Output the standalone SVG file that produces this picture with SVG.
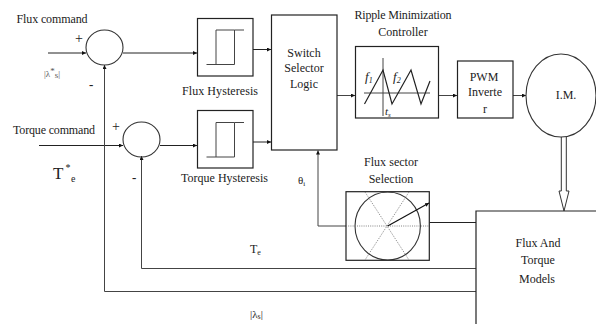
<svg xmlns="http://www.w3.org/2000/svg" width="596" height="324" viewBox="0 0 596 324">
<style>
text{font-family:"Liberation Serif","Times New Roman",serif;font-size:12px;fill:#222}
.m{text-anchor:middle}
.b{fill:#fff;stroke:#222;stroke-width:1.2}
.l{fill:none;stroke:#222;stroke-width:1}
.g{fill:none;stroke:#444;stroke-width:1}
.c{fill:none;stroke:#333;stroke-width:1.1}
.d{fill:none;stroke:#666;stroke-width:.8;stroke-dasharray:1 1.2}
</style>
<defs>
<marker id="a" markerWidth="5" markerHeight="5" refX="4" refY="2" orient="auto" markerUnits="userSpaceOnUse"><path d="M0 0L4 2L0 4Z" fill="#111"/></marker>
</defs>
<rect width="596" height="324" fill="#fff"/>
<g id="connectors">
<path class="l" d="M48 53H86" marker-end="url(#a)"/>
<path class="l" d="M123 53H197" marker-end="url(#a)"/>
<path class="l" d="M253 49.500H271" marker-end="url(#a)"/>
<path class="l" d="M39 145.500H123" marker-end="url(#a)"/>
<path class="l" d="M160 145.500H197" marker-end="url(#a)"/>
<path class="l" d="M253 142H271" marker-end="url(#a)"/>
<path class="g" d="M337 95.500H355" marker-end="url(#a)"/>
<path class="g" d="M439 95.500H457" marker-end="url(#a)"/>
<path class="g" d="M513 95.500H526" marker-end="url(#a)"/>
<path class="g" d="M346 226H318V150.500" marker-end="url(#a)"/>
<path class="l" d="M429.500 222.500H476"/>
<path class="g" d="M476 268.500H141.500V156" marker-end="url(#a)"/>
<path class="g" d="M476 291.500H104.500V65" marker-end="url(#a)"/>
<path d="M561.300 137V191H559L564 211L569 191H566.300V137" fill="#fff" stroke="#333" stroke-width="1"/>
</g>
<g id="flux-sum"><ellipse class="c" cx="104.500" cy="47.500" rx="18.500" ry="17.500"/></g>
<g id="torque-sum"><ellipse class="c" cx="141.500" cy="139.500" rx="18.500" ry="17.500"/></g>
<g id="flux-hysteresis"><rect class="b" x="197.500" y="18.500" width="55.500" height="57.500"/><path class="g" d="M206.500 64.500H234.500V30H216V64.500M234.500 30H244"/>
<text class="m" x="220" y="95" textLength="76">Flux  Hysteresis</text></g>
<g id="torque-hysteresis"><rect class="b" x="197.500" y="110.500" width="55.500" height="57.500"/><path class="g" d="M206.500 157H234.500V122.500H216V157M234.500 122.500H244"/>
<text class="m" x="224.500" y="182" textLength="87">Torque  Hysteresis</text></g>
<g id="switch-selector"><rect class="b" x="271.500" y="15" width="65.500" height="135"/>
<text class="m" x="304" y="57">Switch</text><text class="m" x="304" y="72">Selector</text><text class="m" x="304" y="88">Logic</text></g>
<g id="ripple-controller"><rect class="b" x="355.500" y="46.500" width="83" height="71.500"/>
<path class="g" d="M364 93H430M383 58V116"/>
<path d="M364.500 104L383 70L392 104L411 70L421 104L430 81" fill="none" stroke="#222" stroke-width="1.2"/>
<text x="365" y="81" style="font-style:italic;font-size:13px">f<tspan dy="2" font-size="8">1</tspan></text>
<text x="393" y="81" style="font-style:italic;font-size:13px">f<tspan dy="2" font-size="8">2</tspan></text>
<text x="385" y="115" style="font-style:italic;font-size:11px">t<tspan dy="2" font-size="7">s</tspan></text>
<text class="m" x="403" y="19" textLength="97">Ripple Minimization</text><text class="m" x="403" y="36">Controller</text></g>
<g id="pwm-inverter"><rect class="b" x="457.500" y="61" width="55.500" height="57"/>
<text class="m" x="484" y="81">PWM</text><text class="m" x="485" y="96">Inverte</text><text class="m" x="485" y="113">r</text></g>
<g id="motor"><ellipse class="c" cx="561" cy="95.500" rx="35" ry="41.500"/><text class="m" x="566" y="99">I.M.</text></g>
<g id="flux-sector"><rect class="b" x="346" y="191.700" width="83.300" height="68.600"/>
<ellipse class="c" cx="387.700" cy="226" rx="32.700" ry="34"/>
<path class="d" d="M346 226H429M365 192L409 260M409 192L365 260"/>
<path d="M387.700 226L429 203" fill="none" stroke="#111" stroke-width="1.2" marker-end="url(#a)"/>
<text class="m" x="391" y="166" textLength="54">Flux  sector</text><text class="m" x="391" y="183">Selection</text></g>
<g id="flux-torque-models"><path class="b" d="M596 211H476V324"/>
<text class="m" x="538" y="246.500">Flux And</text><text class="m" x="538" y="264">Torque</text><text class="m" x="537" y="283">Models</text></g>
<g id="labels">
<text x="16.500" y="23" textLength="71">Flux  command</text>
<text x="75" y="43" style="font-size:14px">+</text>
<text x="44" y="77" style="font-size:9px;fill:#555">|λ<tspan dy="-3">*</tspan><tspan dy="4">s</tspan><tspan dy="-1">|</tspan></text>
<text x="89" y="89" style="font-size:13px;font-weight:bold">-</text>
<text x="13" y="134" textLength="82">Torque command</text>
<text x="112" y="131" style="font-size:14px">+</text>
<text x="53" y="179" style="font-size:17px">T</text>
<text x="65.500" y="171" style="font-size:10px">*</text>
<text x="71" y="182" style="font-size:10px">e</text>
<text x="132" y="182" style="font-size:13px;font-weight:bold">-</text>
<text x="250" y="253">T<tspan dy="2" font-size="8">e</tspan></text>
<text x="250" y="318" style="font-size:11px">|λ<tspan dy="1" font-size="8">s</tspan><tspan dy="-1">|</tspan></text>
<text x="298" y="184" style="font-size:11px">θ<tspan dy="2" font-size="7">i</tspan></text>
</g>
</svg>
